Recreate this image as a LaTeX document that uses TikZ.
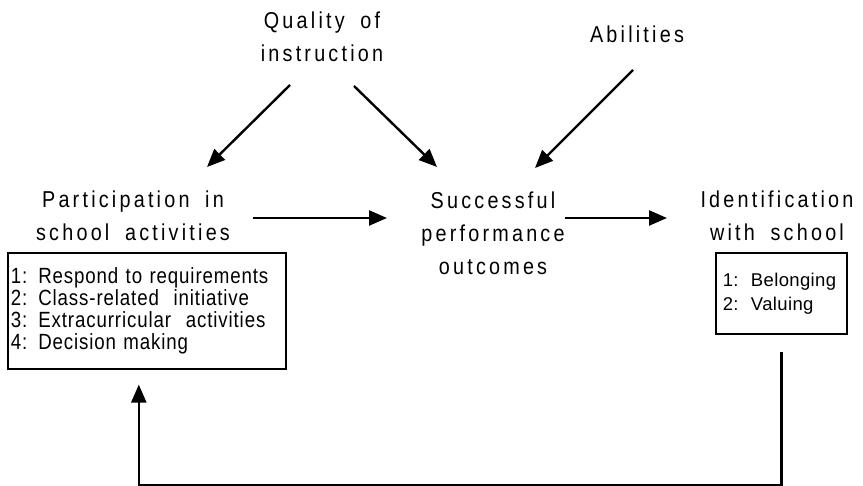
\documentclass[tikz,border=0pt]{standalone}
\usepackage{fontspec}
\usetikzlibrary{positioning,arrows.meta}
\newfontfamily\labelfont[FakeStretch=0.86,LetterSpace=14,WordSpace=1.8]{Liberation Sans}
\newfontfamily\boxfont[FakeStretch=0.85,LetterSpace=4,WordSpace=1.4]{Liberation Sans}
\newfontfamily\smallboxfont[LetterSpace=2]{Liberation Sans}
\tikzset{
	model/.style={x=1pt,y=-1pt,>={Triangle[length=18pt,width=15pt]}},
	factor/.style={font=\labelfont\fontsize{23}{33}\selectfont,align=center,
		inner sep=0pt,anchor=base},
	listbox/.style={draw,line width=1.6pt,align=left,anchor=north west,
		font=\boxfont\fontsize{22}{22.3}\selectfont},
	effect/.style={->,line width=2.4pt}
}
\begin{document}
\begin{tikzpicture}[model]
	\useasboundingbox (0,0) rectangle (863,486);
	
	\node[factor] (qual) at (322,62) {Quality of\\instruction};
	\node[factor] (abil) at (637,43) {Abilities};
	\node[factor] (part) at (133,241) {Participation in\\school activities};
	\node[factor] (succ) at (493,275) {Successful\\performance\\outcomes};
	\node[factor] (ident) at (777,241) {Identification\\with school};
	
	\node[listbox, inner xsep=3pt, text width=272pt, minimum height=116pt]
		(partlist) at (7,252) {1: Respond to requirements\\
		2: Class-related\ \ initiative\\
		3: Extracurricular\ \ activities\\
		4: Decision making};
	\node[listbox, font=\smallboxfont\fontsize{18.5}{24}\selectfont,
		inner xsep=7pt, text width=117pt, minimum height=81pt]
		(identlist) at (715,252) {1:\ \ Belonging\\2:\ \ Valuing};
	
	% ends of the arrows
	\coordinate (qual-a) at (290,85);
	\coordinate (qual-b) at (354,86);
	\coordinate (abil-a) at (633,70);
	\coordinate (part-in) at (207,167);
	\coordinate (succ-in) at (437,167);
	\coordinate (succ-in2) at (535,168);
	\coordinate (part-out) at (253,218);
	\coordinate (succ-left) at (387,218);
	\coordinate (succ-out) at (565,218);
	\coordinate (ident-in) at (667,218);
	\coordinate (fb-from) at ([yshift=-17pt]identlist.south);
	\coordinate (fb-to) at ([xshift=-8pt,yshift=-15pt]partlist.south);
	
	\draw[effect] (qual-a) -- (part-in);
	\draw[effect] (qual-b) -- (succ-in);
	\draw[effect] (abil-a) -- (succ-in2);
	\draw[effect] (part-out) -- (succ-left);
	\draw[effect] (succ-out) -- (ident-in);
	\draw[effect] (fb-from) -- ++(0,134) -| (fb-to);
	
\end{tikzpicture}
\end{document}
